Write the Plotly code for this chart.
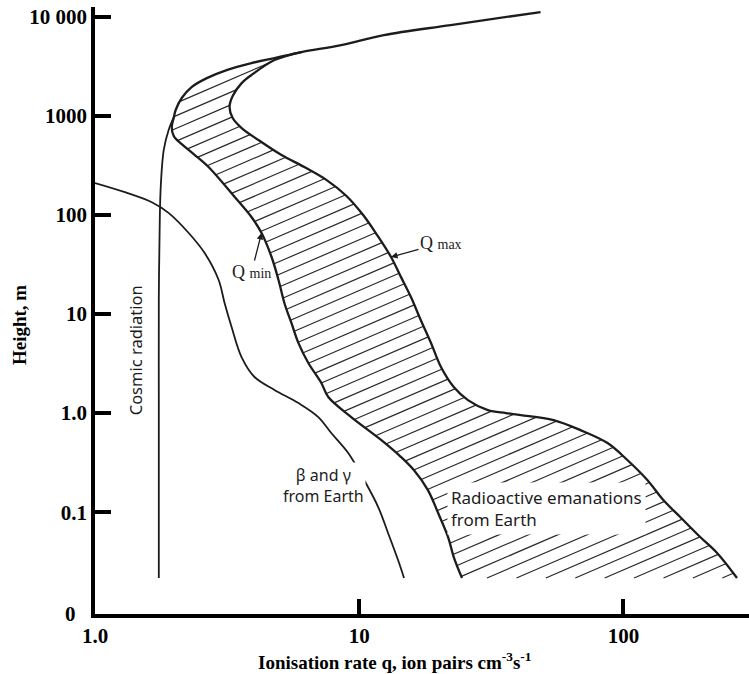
import numpy as np
import plotly.graph_objects as go

# Ionisation rate q (ion pairs cm^-3 s^-1) against height above ground (m)

# Cosmic radiation, from ground level up to where it joins Q_min
cosmic_q = [1.744, 1.744, 1.744, 1.744, 1.76, 1.775, 1.82, 1.90, 1.99]
cosmic_h = [0.0217, 0.133, 1.35, 13.8, 99.4, 200, 450, 716, 970]

# Q_min, from the top of the profile down to ground level
qmin_q = [48.6, 22.2, 12.4, 8.55, 6.04, 4.78, 3.91, 3.15, 2.65, 2.32, 2.13, 2.02, 1.99,
          1.952, 1.987, 2.13, 2.364, 2.69, 3.38, 3.91, 4.27, 4.66, 4.95, 5.21, 5.54,
          5.89, 6.42, 7.19, 7.64, 9.33, 12.1, 14.4, 16.1, 18.2, 19.9,
          21.7, 22.8, 24.5]
qmin_h = [11100, 8200, 6500, 5155, 4385, 3810, 3390, 2884, 2392, 1941, 1506, 1140, 970,
          768, 622, 516, 409, 303, 151, 95, 65.5, 37.5, 22.0, 12.9, 8.1,
          5.08, 3.2, 2.01, 1.45, 0.91, 0.535, 0.36, 0.266, 0.167, 0.098,
          0.056, 0.0353, 0.0217]

# Q_max, from where it leaves Q_min down to ground level
qmax_q = [6.04, 4.78, 3.91, 3.59, 3.32, 3.23, 3.32, 3.59, 4.16, 5.08,
          6.20, 7.51, 8.93, 10.35, 11.69, 13.2, 14.4, 15.7, 17.1, 18.7,
          20.4, 22.8, 25.8, 30.7, 35.9, 40.9, 54.4, 68.8, 87.1, 103.5,
          123.2, 141.6, 164.1, 195.3, 226.3, 269.2]
qmax_h = [4385, 3640, 2570, 2130, 1580, 1220, 946, 750, 567, 401,
          303, 225, 155.6, 99.4, 62.5, 37.5, 23.5, 14.8, 8.67, 5.08,
          2.91, 1.83, 1.35, 1.07, 1.0, 0.955, 0.85, 0.673, 0.498, 0.336,
          0.211, 0.1325, 0.0893, 0.0562, 0.0388, 0.0217]

# Beta and gamma radiation from the ground
beta_q = [1.0, 1.298, 1.641, 1.903, 2.263, 2.601, 2.938, 3.094, 3.289, 3.587,
          4.016, 4.78, 5.89, 7.0, 7.84, 9.09, 10.44, 11.8, 12.86, 14.03, 14.78]
beta_h = [209, 169, 134, 104, 65.5, 41.1, 22.0, 12.9, 7.37, 3.67,
          2.31, 1.71, 1.26, 0.911, 0.629, 0.395, 0.211, 0.1127, 0.0617, 0.0329, 0.0217]

x_tickvals = [1, 10, 100]
x_ticktext = ["1.0", "10", "100"]
y_tickvals = [0.1, 1, 10, 100, 1000, 10000]
y_ticktext = ["0.1", "1.0", "10", "100", "1000", "10 000"]

INK = "#1c1c1c"

# ---- hatching of the band between Q_min and Q_max (straight, rising lines in log-log space)
start = qmin_h.index(qmax_h[0])
band_lx = np.log10(np.array(qmin_q[start:] + qmax_q[::-1]))
band_ly = np.log10(np.array(qmin_h[start:] + qmax_h[::-1]))
hatch_slope = 1.15      # decades of height per decade of q
hatch_step = 0.128      # spacing between hatch lines, decades of height
level = band_ly - hatch_slope * band_lx
hx, hy = [], []
for c in np.arange(level.min() + hatch_step / 2, level.max(), hatch_step):
    f = level - c
    cuts = []
    for i in range(len(f) - 1):
        a, b = f[i], f[i + 1]
        if a * b < 0:
            t = a / (a - b)
            cuts.append(band_lx[i] + t * (band_lx[i + 1] - band_lx[i]))
    cuts.sort()
    for j in range(0, len(cuts) - 1, 2):
        x0, x1 = cuts[j], cuts[j + 1]
        hx += [10 ** x0, 10 ** x1, None]
        hy += [10 ** (c + hatch_slope * x0), 10 ** (c + hatch_slope * x1), None]

curve = dict(shape="spline", smoothing=1.0)

fig = go.Figure()
fig.add_trace(go.Scatter(x=hx, y=hy, mode="lines",
                         line=dict(color="#2a2a2a", width=1.2), hoverinfo="skip"))
fig.add_trace(go.Scatter(x=cosmic_q, y=cosmic_h, mode="lines", name="Cosmic radiation",
                         line=dict(color=INK, width=1.8, **curve)))
fig.add_trace(go.Scatter(x=beta_q, y=beta_h, mode="lines", name="β and γ from Earth",
                         line=dict(color=INK, width=1.8, **curve)))
fig.add_trace(go.Scatter(x=qmin_q, y=qmin_h, mode="lines", name="Q min",
                         line=dict(color=INK, width=2.3, **curve)))
fig.add_trace(go.Scatter(x=qmax_q, y=qmax_h, mode="lines", name="Q max",
                         line=dict(color=INK, width=2.3, **curve)))

tick_font = dict(family="Liberation Serif", size=21, color="black", weight="bold")
title_font = dict(family="Liberation Serif", size=19, color="black", weight="bold")
sans = "Noto Sans"

fig.update_xaxes(type="log", range=[0, 2.4755], tickvals=x_tickvals, ticktext=x_ticktext,
                 ticks="inside", ticklen=15, tickwidth=3.5, tickcolor="black",
                 showline=True, linewidth=3.5, linecolor="black",
                 showgrid=False, zeroline=False, tickfont=tick_font)
fig.update_yaxes(type="log", range=[-2.027, 4.096], tickvals=y_tickvals, ticktext=y_ticktext,
                 ticks="inside", ticklen=16, tickwidth=3.5, tickcolor="black",
                 showline=True, linewidth=3.5, linecolor="black",
                 showgrid=False, zeroline=False, tickfont=tick_font)

L = np.log10
annotations = [
    # axis titles
    dict(text="Ionisation rate q, ion pairs cm<sup>-3</sup>s<sup>-1</sup>",
         xref="paper", yref="paper", x=0.4587, y=-0.078, xanchor="center", yanchor="middle",
         showarrow=False, font=title_font),
    dict(text="Height, m", xref="paper", yref="paper", x=0, y=0.476, xshift=-76,
         xanchor="center", yanchor="middle", textangle=-90, showarrow=False, font=title_font),
    # bottom-left corner label of the height axis
    dict(text="0", xref="paper", yref="paper", x=0, y=0, xanchor="right", yanchor="middle",
         xshift=-17, showarrow=False, font=tick_font),
    # curve labels
    dict(text="Cosmic radiation", x=L(1.42), y=L(4.32), textangle=-90, showarrow=False,
         font=dict(family=sans, size=16.5, color=INK)),
    dict(text="β and γ<br>from Earth", x=L(7.32), y=L(0.188), showarrow=False,
         align="center", font=dict(family=sans, size=16, color=INK), bgcolor="white"),
    dict(text="Radioactive emanations<br>from Earth", x=L(21.5), y=L(0.109), xanchor="left",
         align="left", showarrow=False, font=dict(family=sans, size=17, color=INK),
         bgcolor="white", borderpad=3),
    dict(text="Q <span style='font-size:14px'>min</span>", x=L(4.27), y=L(65.5),
         ax=-10, ay=39, showarrow=True, arrowhead=2, arrowsize=1, arrowwidth=1.3,
         arrowcolor=INK, standoff=0, font=dict(family="Liberation Serif", size=18, color=INK)),
    dict(text="Q <span style='font-size:14px'>max</span>", x=L(13.2), y=L(37.5),
         ax=50, ay=-14, showarrow=True, arrowhead=2, arrowsize=1, arrowwidth=1.3,
         arrowcolor=INK, standoff=0, font=dict(family="Liberation Serif", size=18, color=INK)),
]

fig.update_layout(width=749, height=674, margin=dict(l=95, r=0, t=7, b=60),
                  paper_bgcolor="white", plot_bgcolor="white", showlegend=False,
                  annotations=annotations)

fig.write_html("out.html")
